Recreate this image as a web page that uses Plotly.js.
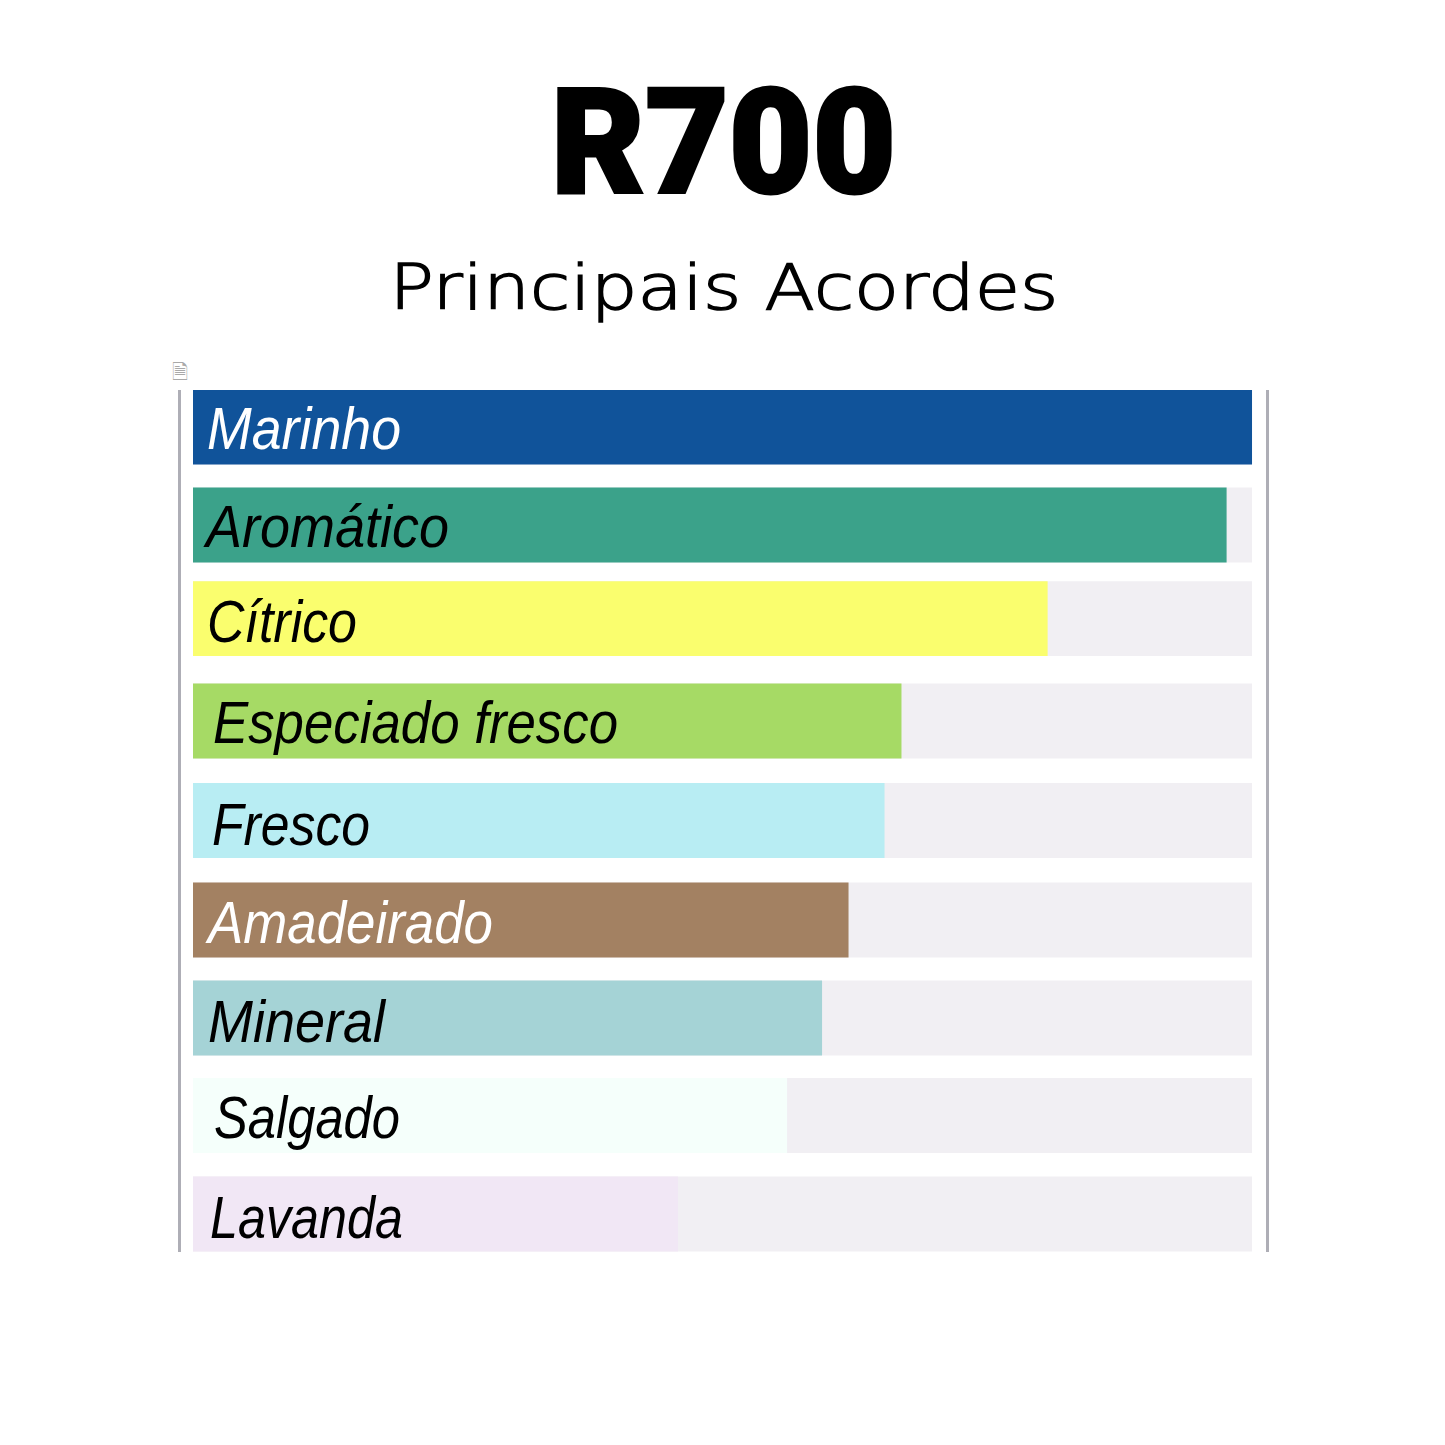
<!DOCTYPE html>
<html>
<head>
<meta charset="utf-8">
<script src="https://cdn.plot.ly/plotly-3.0.1.min.js"></script>
<style>html,body{margin:0;padding:0;background:#fff}</style>
</head>
<body>
<div id="chart" style="width:1445px;height:1445px"></div>
<script>
const categories = ["Marinho","Aromático","Cítrico","Especiado fresco","Fresco","Amadeirado","Mineral","Salgado","Lavanda"];
const values = [100,97.6,80.7,66.9,65.3,61.9,59.4,56.1,45.8];
const trackMax = [100,100,100,100,100,100,100,100,100];
const rowPositions = [0,1,1.955,3,4.015,5.03,6.03,7.026,8.03];
const barColors = ["#10539a","#3ba28a","#fafe6e","#a6da65","#b8edf3","#a38162","#a5d3d6","#f5fffb","#f1e7f5"];
const labelColors = ["#fff","#000","#000","#000","#000","#fff","#000","#000","#000"];
const labelOffsets = [12,8,12,18,17,10,13,19,15];
const labelNudges = [0,0,0.01,-0.005,0.03,0.01,0.02,0,0.025];
const labelWidths = [194,243,150,405,158,285,177,186,193];

const rowHeight = 0.765;
const pxPerUnit = 10.595;

const track = {type:"bar",orientation:"h",y:rowPositions,x:trackMax,width:rowHeight,
  marker:{color:"#f1eff3",line:{width:0}},hoverinfo:"skip",showlegend:false};
const bars = {type:"bar",orientation:"h",y:rowPositions,x:values,width:rowHeight,
  marker:{color:barColors,line:{width:0}},text:categories,hoverinfo:"x+text",textposition:"none",showlegend:false};

const labels = categories.map((c,i)=>({
  text:c,x:labelOffsets[i]/pxPerUnit,y:rowPositions[i]+0.015+labelNudges[i],xref:"x",yref:"y",xanchor:"left",yanchor:"middle",align:"left",
  showarrow:false,font:{family:"'Liberation Sans',sans-serif",size:60,color:labelColors[i],style:"italic"}
}));

const layout = {
  width:1445,height:1445,paper_bgcolor:"#fff",plot_bgcolor:"#fff",
  margin:{l:181,r:178.5,t:390,b:193},
  barmode:"overlay",
  xaxis:{range:[-1.133,101.32],showgrid:false,zeroline:false,showticklabels:false,ticks:"",showline:false,fixedrange:true},
  yaxis:{range:[8.418,-0.378],showgrid:false,zeroline:false,showticklabels:false,ticks:"",showline:true,mirror:true,linecolor:"#aeaeb6",linewidth:3,fixedrange:true},
  annotations:[
    {text:"R700",xref:"paper",yref:"paper",x:0.5,y:1.2865,xanchor:"center",yanchor:"middle",showarrow:false,
     font:{family:"Roboto,sans-serif",size:146,color:"#000",weight:900}},
    {text:"Principais Acordes",xref:"paper",yref:"paper",x:0.5,y:1.1185,xanchor:"center",yanchor:"middle",showarrow:false,
     font:{family:"'DejaVu Sans',sans-serif",size:62,color:"#000",weight:200}},
    {text:"🗎",xref:"paper",yref:"paper",x:-0.001,y:1.021,xanchor:"center",yanchor:"middle",showarrow:false,
     font:{family:"'DejaVu Sans',sans-serif",size:20,color:"#a9a9a9"}},
    ...labels
  ]
};
const fitWidths = {"R700":345,"Principais Acordes":669};
const textStrokes = {"R700":"3px","Principais Acordes":"1.4px"};
categories.forEach((c,i)=>{fitWidths[c]=labelWidths[i];});
Plotly.newPlot("chart",[track,bars],layout,{displayModeBar:false,staticPlot:true}).then(()=>{
  document.querySelectorAll("#chart .annotation-text").forEach(t=>{
    const w=fitWidths[t.textContent];
    if(w){t.setAttribute("textLength",w);t.setAttribute("lengthAdjust","spacingAndGlyphs");}
    const s=textStrokes[t.textContent];
    if(s){t.style.stroke="#000";t.style.strokeWidth=s;}
  });
});
</script>
</body>
</html>
